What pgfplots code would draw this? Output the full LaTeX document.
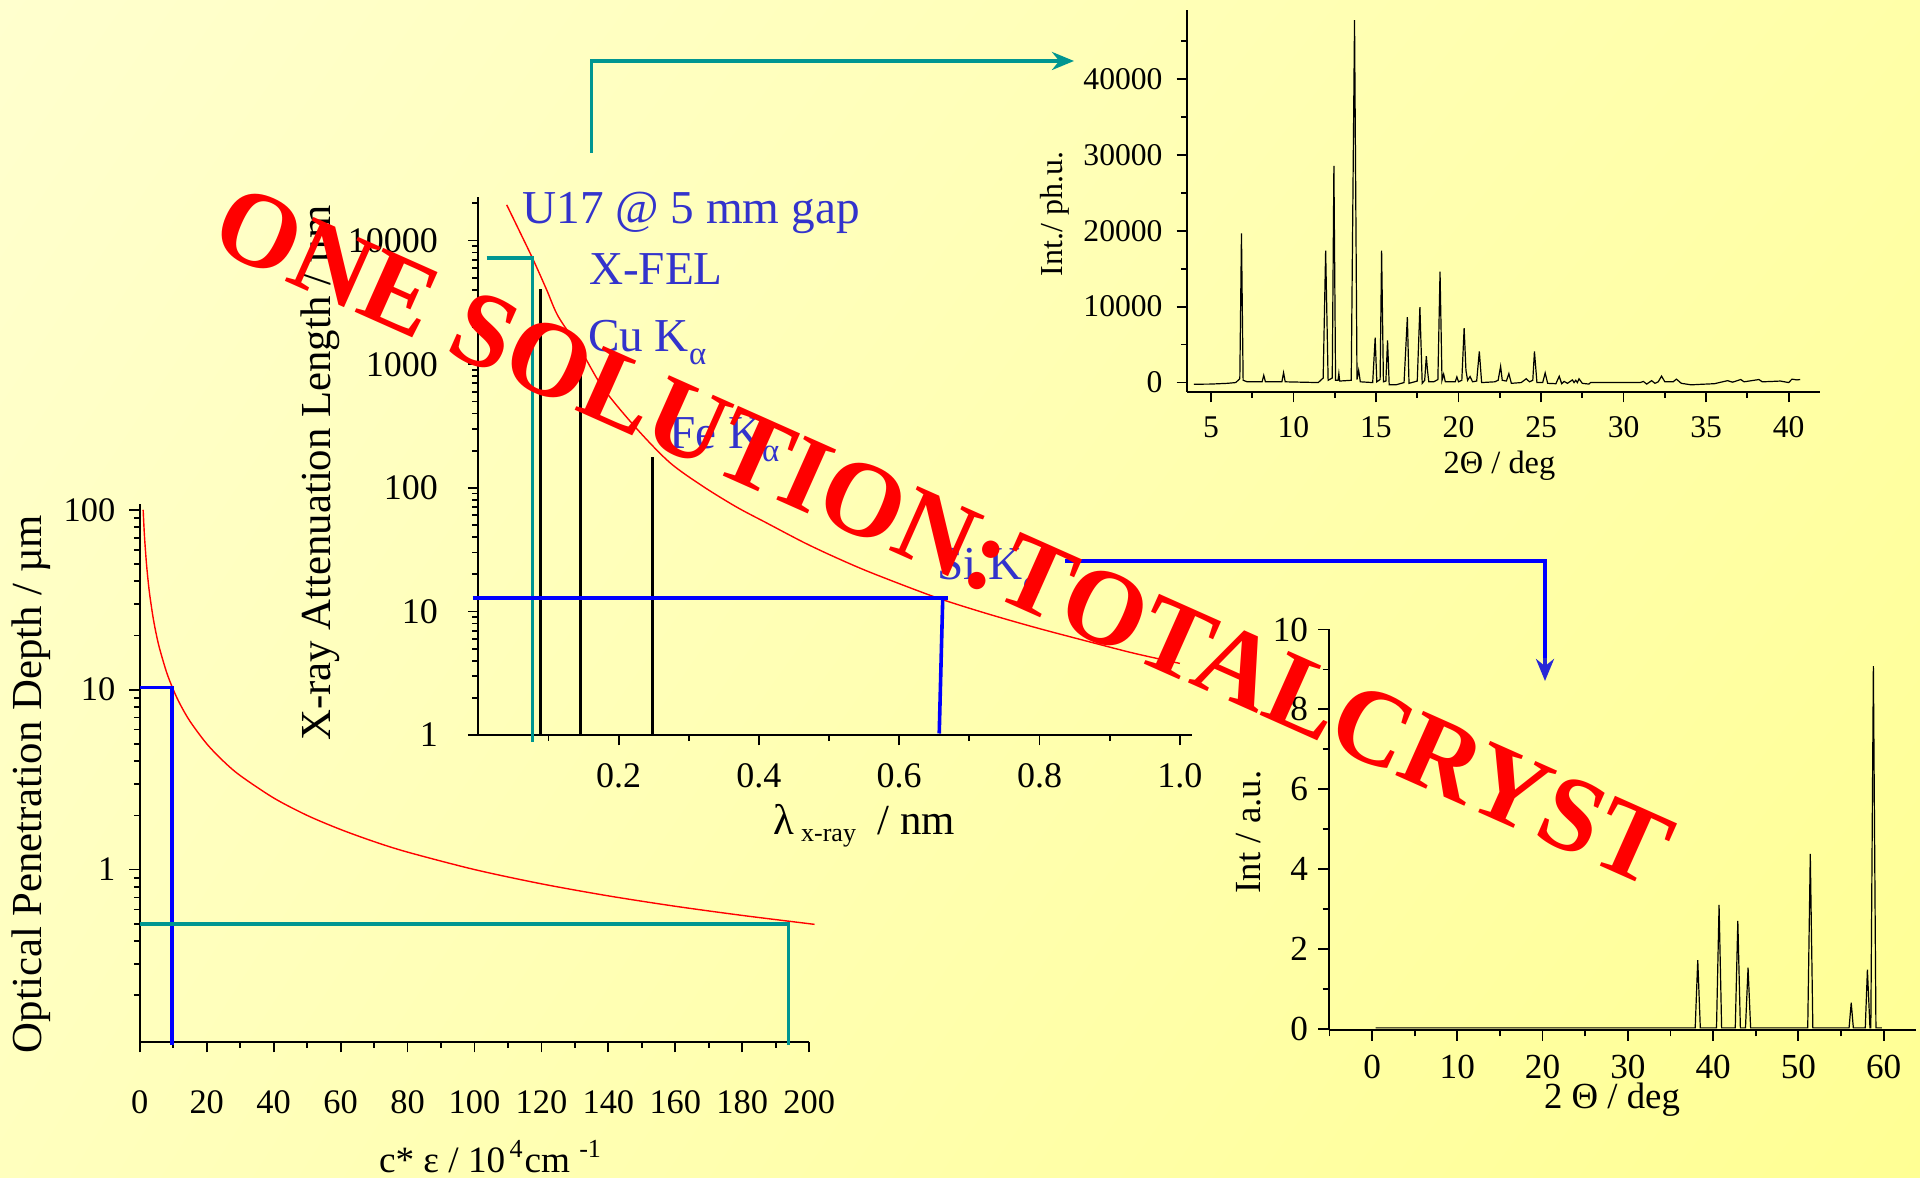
\documentclass[border=0pt]{standalone}
\usepackage{fontspec}
\setmainfont{Liberation Serif}
\usepackage{pgfplots}
\pgfplotsset{compat=1.18}
\usetikzlibrary{arrows.meta,shadings}
\definecolor{bgTL}{RGB}{255,255,206}
\definecolor{bgTR}{RGB}{255,255,168}
\definecolor{bgBL}{RGB}{255,255,190}
\definecolor{bgBR}{RGB}{255,255,148}
\definecolor{tealc}{RGB}{0,150,145}
\definecolor{lblue}{RGB}{51,51,204}
\definecolor{arrblue}{RGB}{40,40,215}
\pgfplotsset{myax/.style={scale only axis, axis lines=left, axis line style={-,line width=0.5pt},
  tick align=outside, major tick length=2.6pt, minor tick length=1.5pt,
  tick style={black,line width=0.45pt},
  /pgf/number format/assume math mode=true, anchor=south west, clip=false}}
\begin{document}
\begin{tikzpicture}[x=0.25pt,y=0.25pt]
\shade[upper left=bgTL, upper right=bgTR, lower left=bgBL, lower right=bgBR] (0,0) rectangle (1920,1178);

% ---------------- bottom-left: optical penetration depth
\begin{axis}[myax, at={(34.95pt,34pt)}, width=167.35pt, height=134.375pt,
  xmin=0, xmax=200, ymode=log, ymin=0.11, ymax=107,
  xtick={0,20,...,200}, minor x tick num=1,
  ytick={1,10,100}, yticklabels={1,10,100},
  minor ytick={0.2,0.3,0.4,0.5,0.6,0.7,0.8,0.9,2,3,4,5,6,7,8,9,20,30,40,50,60,70,80,90},
  tick label style={font=\rmfamily\fontsize{8.6}{10}\selectfont}, xticklabel shift=6pt]
\addplot[red, line width=0.35pt, smooth] coordinates {
(1,100) (1.25,80) (1.5,66.7) (2,50) (2.5,40) (3,33.3) (4,25) (5,20) (6,16.7) (8,12.5)
(10,10) (12,8.33) (15,6.67) (20,5) (25,4) (30,3.33) (40,2.5) (50,2) (60,1.67) (70,1.43)
(80,1.25) (100,1) (120,0.833) (140,0.714) (160,0.625) (180,0.556) (200,0.5) (201,0.4975)};
\addplot[blue, line width=0.9pt] coordinates {(0,10.3) (9.7,10.3) (9.7,0.106)};
\addplot[tealc, line width=0.9pt] coordinates {(0,0.5) (193.8,0.5) (193.8,0.106)};
\end{axis}

% ---------------- middle: x-ray attenuation length
\begin{axis}[myax, at={(119.575pt,110.725pt)}, width=178.55pt, height=134.45pt,
  xmin=0, xmax=1.018, ymode=log, ymin=1, ymax=22400,
  xtick={0.2,0.4,0.6,0.8,1.0}, xticklabels={0.2,0.4,0.6,0.8,1.0},
  minor xtick={0.1,0.3,0.5,0.7,0.9},
  ytick={1,10,100,1000,10000}, yticklabels={1,10,100,1000,10000},
  minor ytick={2,3,4,5,6,7,8,9,20,30,40,50,60,70,80,90,200,300,400,500,600,700,800,900,2000,3000,4000,5000,6000,7000,8000,9000,20000},
  tick label style={font=\rmfamily\fontsize{9}{10}\selectfont}, yticklabel shift=4pt, xticklabel shift=1pt]
\addplot[red, line width=0.35pt, smooth] coordinates {
(0.0405,19450) (0.0594,11700) (0.0784,6980) (0.0975,3990) (0.114,2430) (0.146,1300)
(0.178,640) (0.226,300) (0.273,160) (0.32,103) (0.368,70) (0.411,52) (0.463,36.4) (0.506,27.9) (0.558,20.8)
(0.649,13.2) (0.72,9.8) (0.791,7.5) (0.86,5.9) (0.934,4.6) (1.0,3.8)};
\addplot[black, line width=0.7pt] coordinates {(0.089,1) (0.089,4045)};
\addplot[black, line width=0.7pt] coordinates {(0.146,1) (0.146,1211)};
\addplot[black, line width=0.7pt] coordinates {(0.2486,1) (0.2486,179)};
\addplot[tealc, line width=0.9pt] coordinates {(0.012,7210) (0.0775,7210) (0.0775,0.886)};
\addplot[blue, line width=0.9pt] coordinates {(-0.008,12.8) (0.670,12.8)};
\addplot[blue, line width=0.9pt] coordinates {(0.662,12.8) (0.657,1.03)};
\end{axis}

% ---------------- top-right: powder pattern
\begin{axis}[myax, at={(296.75pt,196.5pt)}, width=158.25pt, height=95.5pt,
  xmin=3.55, xmax=41.9, ymin=-1240, ymax=49050,
  xtick={5,10,...,40}, minor xtick={7.5,12.5,17.5,22.5,27.5,32.5,37.5},
  ytick={0,10000,20000,30000,40000}, yticklabels={0,10000,20000,30000,40000},
  minor ytick={5000,15000,25000,35000,45000},
  tick label style={font=\rmfamily\fontsize{7.9}{9}\selectfont}]
\addplot[black, line width=0.3pt] coordinates {
(3.96,-220) (5.0,-200) (6.0,-100) (6.5,0) (6.75,500) (6.85,19650) (6.95,300) (7.2,100)
(8.1,100) (8.2,960) (8.3,100) (9.3,100) (9.4,1300) (9.5,100) (10.5,50) (11.5,0)
(11.8,600) (11.95,17370) (12.1,300) (12.35,600) (12.45,28530) (12.55,300) (12.7,300) (12.75,1200) (12.8,200)
(13.5,300) (13.7,47700) (13.85,400) (13.95,1600) (14.05,100) (14.8,0) (14.95,5900) (15.05,100)
(15.25,400) (15.34,17370) (15.45,100) (15.6,200) (15.7,5560) (15.8,-300) (16.2,-300) (16.7,0)
(16.9,8620) (17.0,-100) (17.5,200) (17.66,9930) (17.8,-100) (17.95,300) (18.05,3460) (18.12,1600) (18.2,100)
(18.5,100) (18.75,400) (18.88,14600) (19.0,300) (19.1,1100) (19.2,100) (19.8,100) (19.9,740) (20.0,100)
(20.2,300) (20.34,7180) (20.45,1600) (20.55,300) (20.7,800) (20.85,100) (21.1,200) (21.26,4110) (21.4,0)
(22.2,100) (22.4,300) (22.55,2140) (22.65,300) (22.9,200) (23.05,1180) (23.2,-100) (23.8,0)
(24.1,500) (24.3,100) (24.5,300) (24.6,4110) (24.75,0) (25.1,0) (25.25,1270) (25.4,-100)
(25.9,-150) (26.1,830) (26.25,-150) (26.4,150) (26.6,-100) (26.9,350) (27.0,0) (27.1,300) (27.2,0) (27.3,500)
(27.5,-100) (27.9,-200) (28.0,0) (31.0,0) (31.2,150) (31.4,-200) (31.7,250) (31.9,-100) (32.1,100)
(32.3,850) (32.5,100) (33.0,100) (33.2,450) (33.5,-100) (34.1,-300) (34.5,-250) (35.0,-200)
(35.5,-150) (36.0,100) (36.3,250) (36.6,50) (37.1,400) (37.3,100) (38.2,400) (38.4,100)
(39.0,150) (39.5,200) (40.0,0) (40.2,450) (40.5,350) (40.7,400)};
\end{axis}

% ---------------- bottom-right: simulated pattern
\begin{axis}[myax, at={(332.15pt,36.875pt)}, width=146.85pt, height=100.25pt,
  xmin=-5.1, xmax=63.8, ymin=-0.045, ymax=10,
  xtick={0,10,...,60}, minor xtick={-5,5,15,25,35,45,55},
  ytick={0,2,...,10}, minor ytick={1,3,5,7,9},
  tick label style={font=\rmfamily\fontsize{8.8}{10}\selectfont}, yticklabel shift=-1pt]
\addplot[black, line width=0.3pt] coordinates {
(0.4,0.02) (37.9,0.02) (38.2,1.72) (38.5,0.02) (40.4,0.02) (40.7,3.10) (41.0,0.02)
(42.6,0.02) (42.9,2.70) (43.2,0.02) (43.8,0.02) (44.1,1.53) (44.4,0.02)
(51.1,0.02) (51.4,4.38) (51.7,0.02) (55.95,0.02) (56.2,0.65) (56.45,0.02)
(57.85,0.02) (58.1,1.48) (58.4,0.02) (58.5,0.02) (58.8,9.08) (59.1,0.02) (59.8,0.02)};
\end{axis}

% ---------------- axis labels
\node[rotate=90, font=\fontsize{10.7}{12}\selectfont] at (31,394) {Optical Penetration Depth / µm};
\node[anchor=base, font=\fontsize{9.3}{11}\selectfont, inner sep=0pt] at (491,5) {c* ε / 10\textsuperscript{\,4}cm \textsuperscript{-1}};
\node[rotate=90, font=\fontsize{10.7}{12}\selectfont] at (320,705) {X-ray Attenuation Length / µm};
\node[font=\fontsize{10.7}{12}\selectfont] at (864,352) {λ\,\raisebox{-0.35ex}{\fontsize{6.5}{7}\selectfont x-ray}\ \ / nm};
\node[rotate=90, font=\fontsize{8}{9}\selectfont] at (1055,964) {Int./ ph.u.};
\node[font=\fontsize{8.1}{9}\selectfont] at (1499.5,712) {2Θ / deg};
\node[rotate=90, font=\fontsize{9.2}{10}\selectfont] at (1249,346) {Int / a.u.};
\node[font=\fontsize{9.2}{10}\selectfont] at (1612,78) {2 Θ / deg};

% ---------------- blue annotations
\begin{scope}[every node/.style={anchor=base west, inner sep=0pt, text=lblue, font=\fontsize{11.8}{13}\selectfont}]
\node at (521.7,954.7) {U17 @ 5 mm gap};
\node at (588.3,893) {X-FEL};
\node at (587.3,826.3) {Cu K\raisebox{-0.28em}{\fontsize{8.2}{9}\selectfont α}};
\node at (668.3,729.7) {Fe K\raisebox{-0.28em}{\fontsize{8.2}{9}\selectfont α}};
\node at (936.7,598) {Si K\raisebox{-0.28em}{\fontsize{8.2}{9}\selectfont α}};
\end{scope}

% ---------------- connecting arrows
\draw[tealc, line width=0.9pt, -{Stealth[length=5.5pt,width=4.5pt]}] (591.4,1025) -- (591.4,1117) -- (1074,1117);
\draw[blue, line width=0.9pt] (1065,617) -- (1545,617) -- (1545,505);
\draw[arrblue, line width=0.9pt, -{Stealth[length=5.5pt,width=4.5pt]}] (1545,520) -- (1545,497);

% ---------------- big red title
\node[rotate=-24, text=red, font=\fontsize{26.7}{30}\selectfont\bfseries, inner sep=0pt] at (943,642) {ONE SOLUTION:TOTALCRYST};

\pgfresetboundingbox
\useasboundingbox (0,0) rectangle (1920,1178);
\end{tikzpicture}
\end{document}
